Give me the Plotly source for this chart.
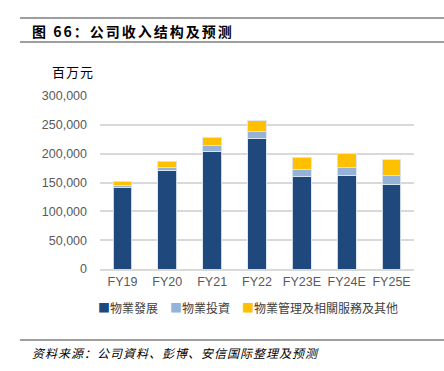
import plotly.graph_objects as go

categories = ["FY19", "FY20", "FY21", "FY22", "FY23E", "FY24E", "FY25E"]
dev = [140700, 171400, 204000, 226800, 159800, 161500, 146600]
inv = [4500, 5200, 9500, 11000, 12100, 13900, 14900]
mgmt = [7000, 10400, 15000, 19700, 22000, 24200, 27700]
series_names = ["物業發展", "物業投資", "物業管理及相關服務及其他"]
colors = ["#1F497D", "#95B3D7", "#FFC000"]
y_ticks = [0, 50000, 100000, 150000, 200000, 250000, 300000]

W, H = 444, 371
L, R, T, B = 100, 30, 96, 102
pw, ph = W - L - R, H - T - B

def px(x):
    return (x - L) / pw

def py(y):
    return (H - B - y) / ph

fig = go.Figure()
for name, vals, c in zip(series_names, [dev, inv, mgmt], colors):
    fig.add_trace(go.Bar(
        x=categories, y=vals, name=name, showlegend=False,
        marker=dict(color=c, line=dict(color="rgba(220,230,242,0.9)", width=1)),
    ))

# legend drawn as a text line built from the series names and colours
legend_html = "\u2003".join(
    f"<span style='color:{c}'>■</span>{n}" for n, c in zip(series_names, colors)
)

cjk = "Noto Sans CJK SC"
fig.update_layout(
    width=W, height=H,
    margin=dict(l=L, r=R, t=T, b=B, autoexpand=False),
    barmode="stack", bargap=0.58,
    plot_bgcolor="white", paper_bgcolor="white",
    xaxis=dict(tickfont=dict(family="Liberation Sans", size=12.5, color="#595959"),
               showline=True, linecolor="#D9D9D9", linewidth=1.5, ticks=""),
    yaxis=dict(range=[0, 300000], tickvals=y_ticks, tickformat=",",
               tickfont=dict(family="Liberation Sans", size=12.5, color="#595959"),
               gridcolor="#D9D9D9", gridwidth=1.5, zeroline=False, ticks="",
               ticklabelstandoff=12),
    showlegend=False,
    shapes=[
        dict(type="line", xref="paper", yref="paper", x0=px(20), x1=px(444), y0=py(18), y1=py(18),
             line=dict(color="#404040", width=1.2)),
        dict(type="line", xref="paper", yref="paper", x0=px(20), x1=px(444), y0=py(42), y1=py(42),
             line=dict(color="#404040", width=1.2)),
        dict(type="line", xref="paper", yref="paper", x0=px(20), x1=px(444), y0=py(340), y1=py(340),
             line=dict(color="#404040", width=1.2)),
    ],
    annotations=[
        dict(text="<span style='letter-spacing:2px'><b>图 66：公司收入结构及预测</b></span>",
             xref="paper", yref="paper",
             x=px(30), y=py(31), xanchor="left", yanchor="middle", showarrow=False,
             font=dict(family=cjk, size=14, color="#000000")),
        dict(text="<span style='letter-spacing:1px'>百万元</span>", xref="paper", yref="paper",
             x=px(50), y=py(71), xanchor="left", yanchor="middle", showarrow=False,
             font=dict(family=cjk, size=13, color="#000000")),
        dict(text=legend_html, xref="paper", yref="paper",
             x=px(96), y=py(307), xanchor="left", yanchor="middle", showarrow=False,
             font=dict(family="Noto Sans CJK TC", size=12, color="#404040")),
        dict(text="<span style='letter-spacing:1px'><i>资料来源：公司資料、彭博、安信国际整理及预测</i></span>",
             xref="paper", yref="paper",
             x=px(30), y=py(352), xanchor="left", yanchor="middle", showarrow=False,
             font=dict(family=cjk, size=12, color="#000000")),
    ],
)

fig.write_html("out.html", config={"displayModeBar": False},
               post_script="document.body.style.margin='0';")
